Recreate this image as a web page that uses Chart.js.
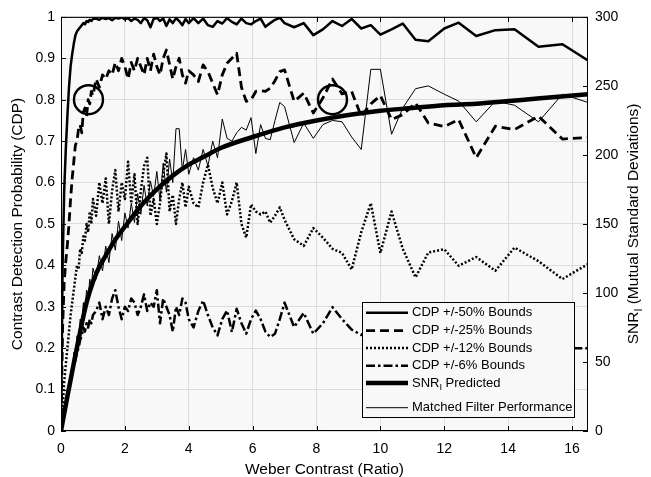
<!DOCTYPE html>
<html>
<head>
<meta charset="utf-8">
<script src="https://cdn.jsdelivr.net/npm/chart.js@4.4.1/dist/chart.umd.min.js"></script>
<style>
  body { margin: 0; background: #fff; }
  #wrap { width: 651px; height: 477px; }
</style>
</head>
<body>
<div id="wrap"><canvas id="cdpChart"></canvas></div>
<script>
// Weber contrast grid shared by the measured curves
const contrast = [
  0, 0.05, 0.1, 0.15, 0.2, 0.25, 0.3, 0.35, 0.4, 0.45, 0.5, 0.55, 0.6, 0.65, 0.7, 0.75, 0.8, 0.85, 0.9, 0.95, 1.0,
  1.1, 1.2, 1.3, 1.4, 1.5, 1.6, 1.7, 1.8, 1.9, 2.0, 2.1, 2.2, 2.3, 2.4, 2.5, 2.6, 2.7, 2.8, 2.9, 3.0,
  3.1, 3.2, 3.3, 3.4, 3.5, 3.6, 3.7, 3.8, 3.9, 4.0,
  4.15, 4.3, 4.45, 4.6, 4.75, 4.9, 5.05, 5.2, 5.35, 5.5, 5.65, 5.8, 5.95, 6.1, 6.25, 6.4, 6.55, 6.7, 6.85, 7.0,
  7.3, 7.6, 7.9, 8.2, 8.5, 8.8, 9.1, 9.4, 9.7, 10.0,
  10.35, 10.7, 11.1, 11.5, 12.0, 12.45, 13.0, 13.6, 14.2, 14.95, 15.7, 16.5
];

// CDP curves (left axis, probability)
const cdp50 = [
  0, 0.40, 0.58, 0.68, 0.76, 0.83, 0.88, 0.91, 0.935, 0.955, 0.965, 0.97, 0.975, 0.98, 0.985, 0.982, 0.99, 0.988, 0.993, 0.99, 0.995,
  0.996, 0.993, 0.998, 0.995, 0.997, 0.992, 0.998, 0.996, 0.999, 0.994, 0.997, 0.99, 0.996, 0.993, 0.985, 0.997, 0.992, 0.975, 0.995, 0.998,
  0.99, 0.996, 0.978, 0.994, 0.985, 0.997, 0.99, 0.98, 0.995, 0.985,
  0.997, 0.985, 0.996, 0.98, 0.976, 0.99, 0.984, 0.997, 0.988, 0.982, 0.996, 0.985, 0.982, 0.99, 0.996, 0.976, 0.985, 0.993, 0.998, 0.985,
  0.975, 0.985, 0.956, 0.97, 0.99, 0.978, 0.995, 0.972, 0.98, 0.957,
  0.97, 0.984, 0.945, 0.941, 0.972, 0.986, 0.954, 0.968, 0.97, 0.928, 0.934, 0.895
];
const cdp25 = [
  0, 0.25, 0.36, 0.41, 0.45, 0.5, 0.56, 0.61, 0.65, 0.69, 0.7, 0.73, 0.74, 0.72, 0.77, 0.78, 0.76, 0.8, 0.79, 0.82, 0.81,
  0.85, 0.83, 0.86, 0.85, 0.87, 0.86, 0.89, 0.87, 0.9, 0.88, 0.85, 0.89, 0.87, 0.9, 0.88, 0.86, 0.9, 0.87, 0.91, 0.88,
  0.86, 0.9, 0.92, 0.885, 0.85, 0.88, 0.9, 0.86, 0.84, 0.87,
  0.86, 0.844, 0.884, 0.868, 0.84, 0.812, 0.86, 0.888, 0.9, 0.912, 0.83, 0.796, 0.8, 0.82, 0.822, 0.82, 0.828, 0.846, 0.868, 0.872,
  0.796, 0.816, 0.768, 0.804, 0.85, 0.814, 0.82, 0.76, 0.79, 0.81,
  0.752, 0.764, 0.792, 0.744, 0.735, 0.752, 0.66, 0.736, 0.728, 0.76, 0.705, 0.709
];
const cdp12 = [
  0, 0.05, 0.12, 0.16, 0.2, 0.24, 0.28, 0.31, 0.34, 0.37, 0.4, 0.39, 0.44, 0.43, 0.47, 0.46, 0.5, 0.48, 0.53, 0.5, 0.56,
  0.52, 0.6, 0.55, 0.61, 0.5, 0.58, 0.63, 0.53, 0.6, 0.56, 0.65, 0.55, 0.62, 0.5, 0.58, 0.64, 0.66, 0.52, 0.56, 0.5,
  0.55, 0.62, 0.67, 0.53, 0.57, 0.5, 0.56, 0.6, 0.54, 0.59,
  0.55, 0.54, 0.6, 0.643, 0.587, 0.55, 0.6, 0.523, 0.555, 0.6, 0.5, 0.467, 0.547, 0.53, 0.523, 0.53, 0.503, 0.52, 0.54, 0.51,
  0.463, 0.447, 0.49, 0.467, 0.44, 0.43, 0.39, 0.48, 0.55, 0.43,
  0.53, 0.44, 0.371, 0.431, 0.439, 0.399, 0.42, 0.387, 0.443, 0.41, 0.367, 0.403
];
const cdp6 = [
  0, 0.03, 0.05, 0.07, 0.09, 0.1, 0.12, 0.14, 0.16, 0.17, 0.19, 0.2, 0.22, 0.23, 0.25, 0.24, 0.26, 0.25, 0.27, 0.26, 0.28,
  0.29, 0.31, 0.27, 0.3, 0.28, 0.32, 0.34, 0.3, 0.27, 0.3, 0.29, 0.32, 0.31, 0.28, 0.3, 0.33, 0.29, 0.31, 0.3, 0.34,
  0.26, 0.32, 0.3, 0.28, 0.24, 0.3, 0.28, 0.32, 0.31, 0.27,
  0.25, 0.29, 0.315, 0.28, 0.25, 0.231, 0.27, 0.291, 0.239, 0.295, 0.26, 0.235, 0.27, 0.291, 0.27, 0.24, 0.227, 0.235, 0.27, 0.31,
  0.251, 0.285, 0.235, 0.26, 0.299, 0.27, 0.245, 0.232, 0.25, 0.26,
  0.24, 0.27, 0.25, 0.23, 0.26, 0.24, 0.22, 0.25, 0.23, 0.21, 0.2, 0.2
];

// matched filter performance (right axis, SNR units)
const matched = [
  0, 9, 15, 18, 30, 30, 42, 42, 57, 54, 69, 66, 81, 78, 93, 87, 102, 96, 110, 104, 118,
  110, 127, 116, 134, 122, 143, 131, 152, 138, 158, 147, 165, 151, 172, 157, 178, 163, 181, 170, 188,
  167, 194, 173, 197, 180, 219, 219, 189, 204, 186,
  198, 189, 204, 192, 210, 198, 226, 212, 210, 216, 220, 218, 227, 201, 222, 212, 211, 225, 238, 235,
  209, 223, 212, 222, 225, 224, 213, 204, 262, 262,
  215, 234, 248, 250, 244, 239, 224, 239, 236, 224, 244, 238
];

// predicted SNR_I (right axis)
const snrX = [0, 0.2, 0.4, 0.6, 0.8, 1.0, 1.2, 1.4, 1.6, 1.8, 2.0, 2.5, 3.0, 3.5, 4.0, 4.5, 5, 6, 7, 8, 9, 10, 11, 12, 13, 14, 15, 16.5];
const snrPredicted = [0, 25, 49, 72, 93, 108, 119, 127, 135, 142, 148, 163, 175, 185, 193, 199, 205, 213, 220, 225, 229, 232, 234, 236, 237, 239, 241, 244];

// circled points
const circleX = [0.86, 8.5];
const circleY = [0.80, 0.80];

const legendLabels = ['CDP +/-50% Bounds', 'CDP +/-25% Bounds', 'CDP +/-12% Bounds', 'CDP +/-6% Bounds', 'SNR|I| Predicted', 'Matched Filter Performance'];

const FONT = "'Liberation Sans', Arial, Helvetica, sans-serif";
const PLOT_BG = '#f8f8f8';

function pts(xs, ys) {
    return xs.map((x, i) => ({ x: x, y: ys[i] }));
}

// draws text with an optional |sub| subscript part
function drawRich(ctx, str, x, y, size) {
    const parts = str.split('|');
    let cx = x;
    parts.forEach((p, i) => {
        const sub = i % 2 === 1;
        ctx.font = (sub ? size * 0.7 : size) + 'px ' + FONT;
        ctx.fillText(p, cx, sub ? y + size * 0.35 : y);
        cx += ctx.measureText(p).width;
    });
    return cx - x;
}
function richWidth(ctx, str, size) {
    return str.split('|').reduce((w, p, i) => {
        ctx.font = (i % 2 ? size * 0.7 : size) + 'px ' + FONT;
        return w + ctx.measureText(p).width;
    }, 0);
}

const framePlugin = {
    id: 'frame',
    beforeDraw(chart) {
        const { ctx, chartArea: a } = chart;
        ctx.save();
        ctx.fillStyle = PLOT_BG;
        ctx.fillRect(a.left, a.top, a.right - a.left, a.bottom - a.top);
        ctx.restore();
    },
    afterDraw(chart) {
        const { ctx, chartArea: a, scales } = chart;
        ctx.save();
        ctx.strokeStyle = '#000';
        ctx.lineWidth = 1;
        ctx.setLineDash([]);
        ctx.strokeRect(a.left + 0.5, a.top + 0.5, a.right - a.left - 1, a.bottom - a.top - 1);

        // inward tick marks
        const tl = 5;
        ctx.beginPath();
        scales.x.ticks.forEach(t => {
            const px = Math.round(scales.x.getPixelForValue(t.value)) + 0.5;
            ctx.moveTo(px, a.bottom); ctx.lineTo(px, a.bottom - tl);
            ctx.moveTo(px, a.top); ctx.lineTo(px, a.top + tl);
        });
        scales.y.ticks.forEach(t => {
            const py = Math.round(scales.y.getPixelForValue(t.value)) + 0.5;
            ctx.moveTo(a.left, py); ctx.lineTo(a.left + tl, py);
        });
        scales.y2.ticks.forEach(t => {
            const py = Math.round(scales.y2.getPixelForValue(t.value)) + 0.5;
            ctx.moveTo(a.right, py); ctx.lineTo(a.right - tl, py);
        });
        ctx.stroke();

        // legend box
        const w = 212, h = 115;
        const x0 = Math.round(a.right - 14 - w), y0 = Math.round(a.bottom - 14 - h);
        ctx.fillStyle = PLOT_BG;
        ctx.fillRect(x0, y0, w, h);
        ctx.strokeRect(x0 + 0.5, y0 + 0.5, w, h);
        const rows = [10.7, 28.7, 46, 63.7, 81, 105.7];
        ctx.textBaseline = 'middle';
        ctx.textAlign = 'left';
        ctx.fillStyle = '#000';
        legendLabels.forEach((label, i) => {
            const ds = chart.data.datasets[i];
            const y = y0 + rows[i];
            ctx.beginPath();
            ctx.lineWidth = ds.borderWidth;
            ctx.setLineDash(ds.borderDash || []);
            ctx.lineCap = 'butt';
            ctx.moveTo(x0 + 4, y);
            ctx.lineTo(x0 + 46, y);
            ctx.stroke();
            ctx.setLineDash([]);
            drawRich(ctx, label, x0 + 50, y, 13);
        });

        // right axis title
        const title = 'SNR|I| (Mutual Standard Deviations)';
        const size = 15.5;
        const tw = richWidth(ctx, title, size);
        ctx.translate(634, (a.top + a.bottom) / 2);
        ctx.rotate(-Math.PI / 2);
        ctx.textBaseline = 'middle';
        drawRich(ctx, title, -tw / 2, 0, size);
        ctx.restore();
    }
};

function lineSet(data, width, dash, axis) {
    return {
        data: data,
        borderColor: '#000',
        borderWidth: width,
        borderDash: dash,
        borderJoinStyle: 'round',
        pointRadius: 0,
        fill: false,
        tension: 0,
        yAxisID: axis
    };
}

const datasets = [
    lineSet(pts(contrast, cdp50), 2.5, [], 'y'),
    lineSet(pts(contrast, cdp25), 2.8, [9, 5], 'y'),
    lineSet(pts(contrast, cdp12), 2.5, [2, 2], 'y'),
    lineSet(pts(contrast, cdp6), 2.5, [9, 3, 2.5, 3], 'y'),
    Object.assign(lineSet(pts(snrX, snrPredicted), 4.5, [], 'y2'), { cubicInterpolationMode: 'monotone' }),
    lineSet(pts(contrast, matched), 1, [], 'y2'),
    {
        data: pts(circleX, circleY),
        showLine: false,
        pointRadius: 14.5,
        pointBorderWidth: 2.4,
        pointBorderColor: '#000',
        pointBackgroundColor: 'rgba(0,0,0,0)',
        yAxisID: 'y'
    }
];

const tickFont = { family: FONT, size: 14 };
const titleFont = { family: FONT, size: 15.5, lineHeight: 1 };
const gridColor = '#dcdcdc';

new Chart(document.getElementById('cdpChart'), {
    type: 'line',
    data: { datasets: datasets },
    plugins: [framePlugin],
    options: {
        responsive: true,
        maintainAspectRatio: false,
        animation: false,
        layout: { padding: { top: 15, left: 0, right: 0, bottom: 0 } },
        plugins: {
            legend: { display: false },
            tooltip: { enabled: false }
        },
        scales: {
            x: {
                type: 'linear',
                min: 0,
                max: 16.5,
                afterFit: s => { s.height = 46; },
                grid: { color: gridColor, drawTicks: false },
                border: { display: false },
                ticks: { stepSize: 2, includeBounds: false, autoSkip: false, maxRotation: 0, color: '#000', font: tickFont, padding: 10 },
                title: { display: true, text: 'Weber Contrast (Ratio)', color: '#000', font: titleFont, padding: 0 }
            },
            y: {
                position: 'left',
                min: 0,
                max: 1,
                afterFit: s => { s.width = 61; },
                grid: { color: gridColor, drawTicks: false },
                border: { display: false },
                ticks: {
                    stepSize: 0.1, autoSkip: false, color: '#000', font: tickFont, padding: 6,
                    callback: v => String(parseFloat(v.toFixed(2)))
                },
                title: { display: true, text: 'Contrast Detection Probability (CDP)', color: '#000', font: titleFont, padding: { top: 10, bottom: 0 } }
            },
            y2: {
                position: 'right',
                min: 0,
                max: 300,
                afterFit: s => { s.width = 63; },
                grid: { drawOnChartArea: false, drawTicks: false },
                border: { display: false },
                ticks: { stepSize: 50, autoSkip: false, color: '#000', font: tickFont, padding: 7 }
            }
        }
    }
});
</script>
</body>
</html>
